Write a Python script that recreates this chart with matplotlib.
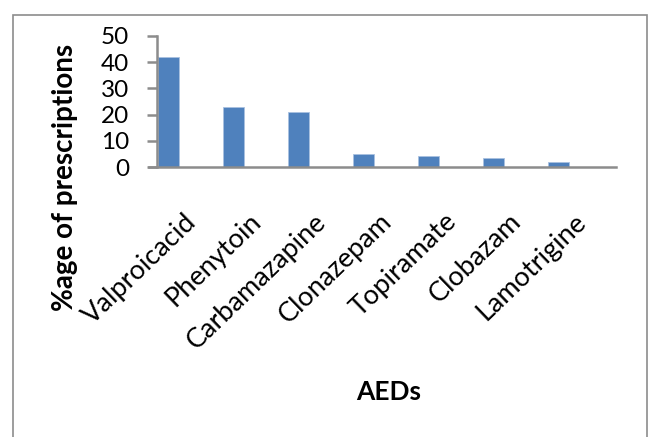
import matplotlib
matplotlib.use("Agg")
import matplotlib.pyplot as plt
from matplotlib.patches import Rectangle
from matplotlib.transforms import ScaledTranslation

drugs = ["Valproicacid", "Phenytoin", "Carbamazapine", "Clonazepam",
         "Topiramate", "Clobazam", "Lamotrigine"]
percent = [42, 23, 21, 5, 4.2, 3.4, 1.8]
yticks = [0, 10, 20, 30, 40, 50]

plt.rcParams["font.family"] = ["Lato", "DejaVu Sans"]

W, H = 649, 437
fig = plt.figure(figsize=(W / 100, H / 100), dpi=100)

# outer chart-area border (open at the bottom edge)
fig.patches.append(Rectangle((13 / W, -0.05), (647 - 13) / W, 1.05 - 15 / H,
                             transform=fig.transFigure, fill=False,
                             edgecolor="#8c8c8c", linewidth=1.2))

ax = fig.add_axes([157 / W, (H - 167) / H, (616 - 157) / W, (167 - 36) / H])

x = list(range(len(drugs)))
ax.bar(x, percent, width=0.33, color="#4F81BD", edgecolor="#a9c1e0",
       linewidth=0.6, zorder=2)

ax.set_xlim(-0.177, 6.88)
ax.set_ylim(0, 50)
ax.set_yticks(yticks)
ax.set_yticklabels([str(v) for v in yticks], fontsize=17.5)
yoff = ScaledTranslation(0, -4 / 100, fig.dpi_scale_trans)
for lab in ax.get_yticklabels():
    lab.set_transform(lab.get_transform() + yoff)

for s in ("top", "right"):
    ax.spines[s].set_visible(False)
for s in ("left", "bottom"):
    ax.spines[s].set_color("#8c8c8c")
    ax.spines[s].set_linewidth(1.8)
ax.spines["bottom"].set_bounds(-0.3, 6.88)
ax.tick_params(axis="y", direction="out", length=7, width=1.8,
               color="#8c8c8c", pad=13)
ax.tick_params(axis="x", length=0)

ax.set_xticks(x)
ax.set_xticklabels(drugs, rotation=44, ha="right", va="center",
                   rotation_mode="anchor", fontsize=19.5)
offset = ScaledTranslation(24 / 100, -46 / 100, fig.dpi_scale_trans)
for lab in ax.get_xticklabels():
    lab.set_transform(lab.get_transform() + offset)

fig.text(65 / W, 1 - 177 / H, "%age of prescriptions", rotation=90,
         ha="center", va="center", fontsize=20, fontweight="bold")
fig.text(389 / W, 1 - 392 / H, "AEDs", ha="center", va="center",
         fontsize=19, fontweight="bold")

fig.savefig("out.png", dpi=100)
